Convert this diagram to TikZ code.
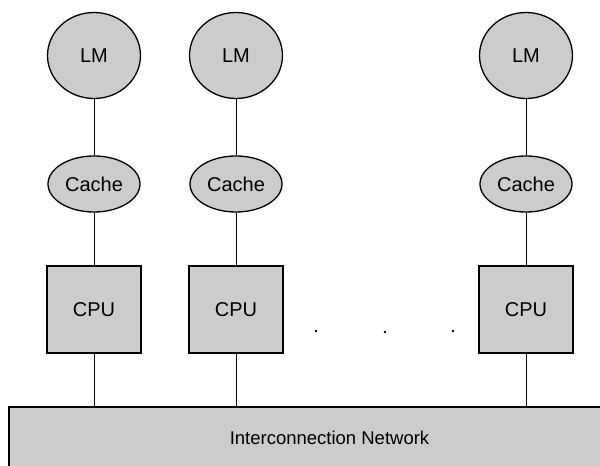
\documentclass[tikz,border=0pt]{standalone}
\usepackage{fontspec}
\setmainfont{Liberation Sans}
\usetikzlibrary{shapes.geometric}

\tikzset{
  unit/.style={fill=black!20, draw=black, line width=1.3pt, font=\fontsize{20}{22}\selectfont, inner sep=0pt},
  lmnode/.style={unit, ellipse, minimum width=93pt, minimum height=86pt},
  cachenode/.style={unit, ellipse, minimum width=92pt, minimum height=56pt},
  cpunode/.style={unit, rectangle, minimum width=94pt, minimum height=87pt},
  netbox/.style={unit, rectangle, minimum width=641pt, minimum height=62pt, font=\fontsize{18.5}{20}\selectfont},
  wire/.style={draw=black, line width=0.9pt},
  gapdot/.style={fill=black, circle, inner sep=0pt, minimum size=2.8pt}
}

\begin{document}
\begin{tikzpicture}[x=1pt, y=1pt]
  \useasboundingbox (0,0) rectangle (600,466);
  \clip (0,0) rectangle (600,466);

  % interconnection network along the bottom
  \node[netbox] (net) at (329.5,28) {Interconnection Network};

  % processor columns: local memory, cache, CPU
  \foreach \i/\x in {1/94, 2/236, 3/526} {
    \node[lmnode]    (lm\i)    at (\x,410.5) {LM};
    \node[cachenode] (cache\i) at (\x,282)   {Cache};
    \node[cpunode]   (cpu\i)   at (\x,156.5) {CPU};
    \draw[wire] (lm\i.south) -- (cache\i.north);
    \draw[wire] (cache\i.south) -- (cpu\i.north);
    \draw[wire] (cpu\i.south) -- (cpu\i.south |- net.north);
  }

  % ellipsis between the second and last column
  \node[gapdot] (d1) at (316,135) {};
  \node[gapdot] (d2) at (385,134) {};
  \node[gapdot] (d3) at (453,135) {};
\end{tikzpicture}
\end{document}
